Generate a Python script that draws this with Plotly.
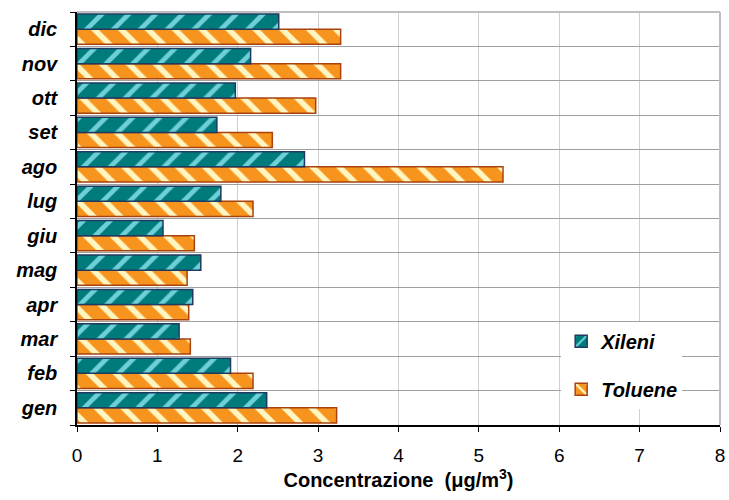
import plotly.graph_objects as go

months = ["gen", "feb", "mar", "apr", "mag", "giu", "lug", "ago", "set", "ott", "nov", "dic"]
xileni = [2.36, 1.91, 1.27, 1.44, 1.54, 1.07, 1.79, 2.83, 1.74, 1.97, 2.16, 2.51]
toluene = [3.23, 2.19, 1.41, 1.39, 1.37, 1.46, 2.19, 5.30, 2.43, 2.97, 3.28, 3.28]
x_ticks = [0, 1, 2, 3, 4, 5, 6, 7, 8]

fig = go.Figure()
fig.add_trace(go.Bar(
    y=months, x=toluene, name="Toluene", orientation="h", legendgroup="t", legendrank=2,
    marker=dict(
        color="#f7941d",
        line=dict(color="#a8420f", width=1.5),
        pattern=dict(shape="\\", bgcolor="#f7941d", fgcolor="#fff5c0",
                     size=19, solidity=0.3, fillmode="replace"),
    ),
))
fig.add_trace(go.Bar(
    y=months, x=xileni, name="Xileni", orientation="h", legendgroup="x", legendrank=1,
    marker=dict(
        color="#007b7b",
        line=dict(color="#1f3a60", width=1.5),
        pattern=dict(shape="/", bgcolor="#007b7b", fgcolor="#6fd0d8",
                     size=19, solidity=0.25, fillmode="replace"),
    ),
))

fig.update_layout(
    width=729, height=500,
    margin=dict(l=77, r=9, t=12, b=75, autoexpand=False),
    barmode="group", bargap=0.12, bargroupgap=0,
    plot_bgcolor="white", paper_bgcolor="white",
    font=dict(family="Liberation Sans, Arial, sans-serif", color="black"),
    showlegend=True,
    legend=dict(
        x=0.753, y=0.25, xanchor="left", yanchor="top",
        bgcolor="white", borderwidth=0,
        traceorder="grouped", tracegroupgap=19,
        font=dict(size=20, family="Liberation Sans, Arial, sans-serif", weight="bold", style="italic"),
    ),
    xaxis=dict(
        range=[0, 8], tickvals=x_ticks, ticktext=[str(v) for v in x_ticks],
        showgrid=True, gridcolor="#d0d0d0", gridwidth=1,
        showline=True, linecolor="black", linewidth=1.5,
        ticks="outside", ticklen=5, tickcolor="black",
        ticklabelstandoff=7,
        ticklabeloverflow="allow", automargin=False,
        tickfont=dict(size=19, family="Liberation Sans, Arial"),
        mirror=False, zeroline=False,
        title=dict(text="Concentrazione  (μg/m<sup>3</sup>)", standoff=6,
                   font=dict(size=20, family="Liberation Sans, Arial", weight="bold")),
    ),
    yaxis=dict(
        categoryorder="array", categoryarray=months,
        tickson="boundaries", automargin=False,
        showgrid=True, gridcolor="#a0a0a0", gridwidth=1,
        showline=True, linecolor="black", linewidth=1.5,
        ticks="outside", ticklen=5, tickcolor="black",
        ticklabelstandoff=14,
        tickfont=dict(size=20, family="Liberation Sans, Arial", weight="bold", style="italic"),
    ),
)
# right and top border of plot area
fig.add_shape(type="line", xref="paper", yref="paper", x0=1, x1=1, y0=0, y1=1,
              line=dict(color="#bfbfbf", width=2))
fig.add_shape(type="line", xref="paper", yref="paper", x0=0, x1=1, y0=1, y1=1,
              line=dict(color="#bfbfbf", width=2))

fig.write_html(
    "out.html",
    config={"displayModeBar": False},
    post_script="document.body.style.margin='0';document.body.style.overflow='hidden';",
)
